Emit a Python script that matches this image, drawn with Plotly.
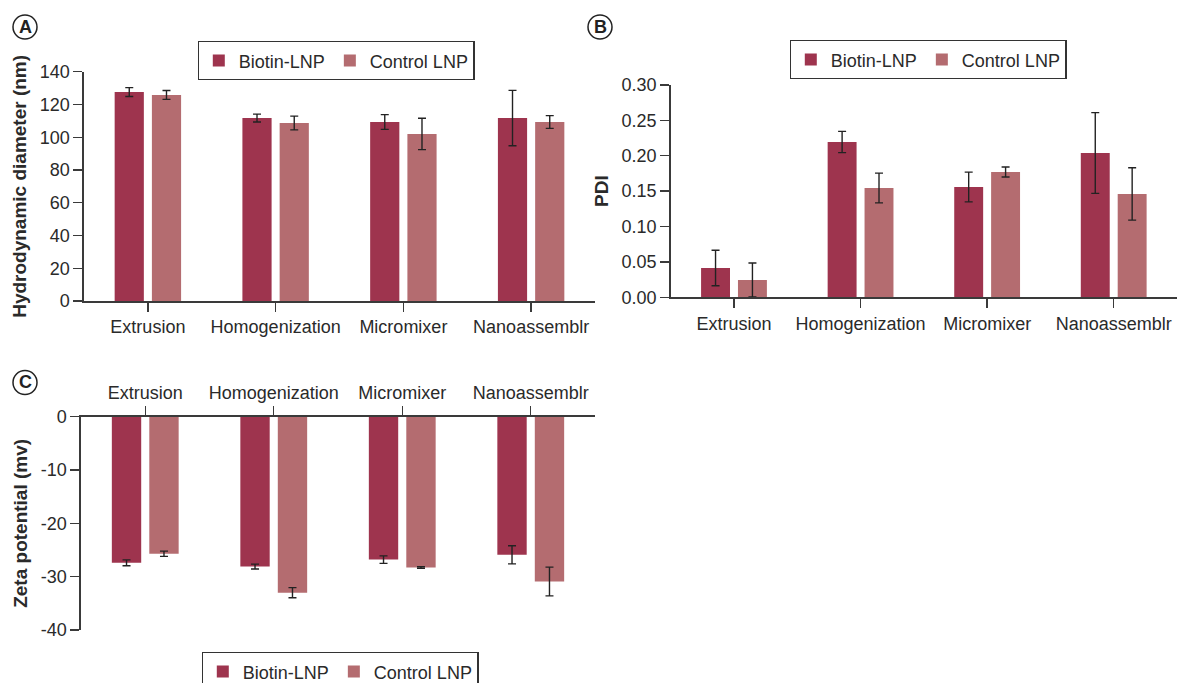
import plotly.graph_objects as go

# ---------------- data ----------------
categories = ["Extrusion", "Homogenization", "Micromixer", "Nanoassemblr"]
series_names = ["Biotin-LNP", "Control LNP"]

# Panel A: hydrodynamic diameter (nm)
size_biotin = [127.6, 111.7, 109.3, 111.7]
size_biotin_err = [2.7, 2.4, 4.5, 16.9]
size_control = [125.8, 108.7, 102.0, 109.3]
size_control_err = [2.7, 4.2, 9.6, 3.9]

# Panel B: PDI
pdi_biotin = [0.0414, 0.2195, 0.1559, 0.2039]
pdi_biotin_err = [0.025, 0.015, 0.021, 0.057]
pdi_control = [0.0245, 0.1545, 0.1771, 0.146]
pdi_control_err = [0.024, 0.021, 0.007, 0.037]

# Panel C: zeta potential (mV)
zeta_biotin = [-27.4, -28.1, -26.8, -25.9]
zeta_biotin_err = [0.55, 0.45, 0.7, 1.7]
zeta_control = [-25.7, -33.0, -28.3, -30.9]
zeta_control_err = [0.5, 0.95, 0.15, 2.7]

size_ticks = [0, 20, 40, 60, 80, 100, 120, 140]
pdi_ticks = [0.0, 0.05, 0.10, 0.15, 0.20, 0.25, 0.30]
zeta_ticks = [-40, -30, -20, -10, 0]
zeta_ticktext = ["-40", "-30", "-20", "-10", "0"]

# ---------------- style ----------------
W, H = 1177, 683
COL_BIOTIN = "#9E344E"
COL_CONTROL = "#B46C70"
TXT = "#2a2a2a"
AXC = "#3a3a3a"
FONT = "Liberation Sans, Arial, sans-serif"


def px_x(p):
    return p / W


def px_y(p):
    return (H - p) / H


fig = go.Figure()

panels = [
    ("x", "y", "legend", [(size_biotin, size_biotin_err), (size_control, size_control_err)]),
    ("x2", "y2", "legend2", [(pdi_biotin, pdi_biotin_err), (pdi_control, pdi_control_err)]),
    ("x3", "y3", "legend3", [(zeta_biotin, zeta_biotin_err), (zeta_control, zeta_control_err)]),
]
colors = [COL_BIOTIN, COL_CONTROL]

for xa, ya, lg, data in panels:
    for (vals, errs), name, col in zip(data, series_names, colors):
        fig.add_trace(go.Bar(
            x=categories, y=vals, name=name, xaxis=xa, yaxis=ya, legend=lg,
            marker=dict(color=col, line=dict(width=0)),
            error_y=dict(type="data", array=errs, visible=True, color="#222222",
                         thickness=1.4, width=4),
        ))

common_x = dict(type="category", showgrid=False, zeroline=False, showline=True,
                linecolor=AXC, linewidth=1.6, ticks="outside", ticklen=9,
                tickwidth=1.4, tickcolor=AXC, range=[-0.5, 3.5],
                tickfont=dict(size=18, color=TXT, family=FONT), automargin=False)
common_y = dict(showgrid=False, zeroline=False, showline=True, linecolor=AXC,
                linewidth=1.6, ticks="outside", ticklen=9, tickwidth=1.4,
                tickcolor=AXC, tickfont=dict(size=18, color=TXT, family=FONT),
                automargin=False)
title_font = dict(size=19, color=TXT, family=FONT, weight="bold")

layout = dict(
    width=W, height=H,
    margin=dict(l=0, r=0, t=0, b=0, autoexpand=False),
    paper_bgcolor="white", plot_bgcolor="white",
    template="none",
    font=dict(family=FONT, color=TXT),
    barmode="group", bargap=0.417, bargroupgap=0.216,
    xaxis=dict(common_x, domain=[px_x(84), px_x(595)], anchor="y"),
    yaxis=dict(common_y, domain=[px_y(301), px_y(71.7)], range=[0, 140],
               tickvals=size_ticks, anchor="x",
               title=dict(text="Hydrodynamic diameter (nm)", font=title_font, standoff=8)),
    xaxis2=dict(common_x, domain=[px_x(670.7), 1.0], anchor="y2"),
    yaxis2=dict(common_y, domain=[px_y(297.3), px_y(85)], range=[0, 0.30],
                tickvals=pdi_ticks, tickformat=".2f", anchor="x2",
                title=dict(text="PDI", font=title_font, standoff=8)),
    xaxis3=dict(common_x, domain=[px_x(81), px_x(595)], anchor="y3", side="top"),
    yaxis3=dict(common_y, domain=[px_y(630), px_y(416.7)], range=[-40, 0],
                tickvals=zeta_ticks, ticktext=zeta_ticktext, anchor="x3",
                title=dict(text="Zeta potential (mv)", font=title_font, standoff=8)),
)

legend_common = dict(orientation="h", bgcolor="white", bordercolor="#333333",
                     borderwidth=1.3, font=dict(size=18, color=TXT, family=FONT),
                     xanchor="center", yanchor="top", itemwidth=30,
                     itemclick=False, itemdoubleclick=False)
layout["legend"] = dict(legend_common, x=px_x(336), y=px_y(41))
layout["legend2"] = dict(legend_common, x=px_x(928), y=px_y(40))
layout["legend3"] = dict(legend_common, x=px_x(340), y=px_y(652))

fig.update_layout(**layout)

# circled panel letters
for letter, cx, cy in [("A", 25, 27), ("B", 600, 27), ("C", 25, 382.5)]:
    fig.add_shape(type="circle", xref="paper", yref="paper",
                  xsizemode="pixel", ysizemode="pixel",
                  xanchor=px_x(cx), yanchor=px_y(cy),
                  x0=-12, x1=12, y0=-12, y1=12,
                  line=dict(color="#222222", width=1.5), fillcolor="white")
    fig.add_annotation(text=f"<b>{letter}</b>", x=px_x(cx), y=px_y(cy),
                       xref="paper", yref="paper", showarrow=False,
                       font=dict(size=18, color="#222222", family=FONT),
                       xanchor="center", yanchor="middle")

# remove the default page margin so the figure fills the 1177x683 window exactly
page_fix = ("document.body.style.margin='0';"
            "document.documentElement.style.overflow='hidden';"
            "document.body.style.overflow='hidden';")
fig.write_html("out.html", post_script=page_fix,
               config={"displayModeBar": False, "staticPlot": True})
